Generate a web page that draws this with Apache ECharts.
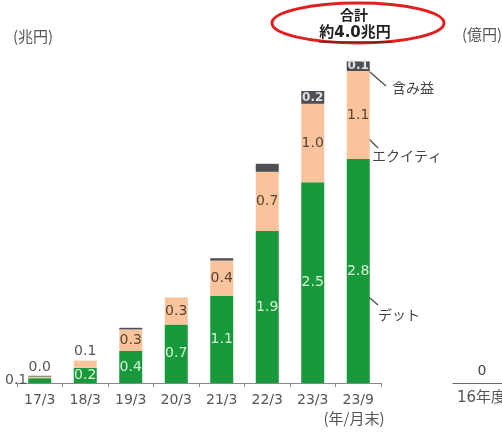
<!DOCTYPE html>
<html><head><meta charset="utf-8">
<script src="https://cdn.jsdelivr.net/npm/echarts@6/dist/echarts.min.js"></script>
<style>html,body{margin:0;padding:0;background:#fff}#c{width:502px;height:435px}</style>
</head><body><div id="c"></div>
<script>
var categories = ['17/3','18/3','19/3','20/3','21/3','22/3','23/3','23/9'];
var debt   = [0.06, 0.19, 0.40, 0.73, 1.09, 1.90, 2.51, 2.80];
var equity = [0.02, 0.09, 0.27, 0.34, 0.44, 0.74, 0.98, 1.10];
var gains  = [0.01, 0.00, 0.02, 0.00, 0.03, 0.10, 0.16, 0.12];
var rightCategories = ['16年度末'];
var rightValues = [0];

var FONT = "'DejaVu Sans','Noto Sans CJK JP',sans-serif";
var JP = "'Noto Sans CJK JP',sans-serif";
function fmt(p){ return (Math.round(p.value*10)/10).toFixed(1); }

var debtData = debt.map(function(v,i){
  var d = {value:v};
  if (i === 0) d.label = {position:'left', distance:1, color:'#555'};
  return d;
});
var equityData = equity.map(function(v,i){
  var d = {value:v};
  if (i === 0 || i === 1) d.label = {position:'top', distance:2, color:'#555'};
  return d;
});
var gainsData = gains.map(function(v,i){
  var d = {value:v};
  if (i >= 6) d.label = {show:true, position:'inside', color:'#e0e0e0', fontSize:12, fontWeight:'bold', fontFamily:FONT, formatter:fmt};
  return d;
});

var chart = echarts.init(document.getElementById('c'));
chart.setOption({
  animation:false,
  grid:[
    {left:17, right:121, top:23, bottom:52, outerBoundsMode:'none', containLabel:false},
    {left:453, width:72, top:23, bottom:52, outerBoundsMode:'none', containLabel:false}
  ],
  xAxis:[
    {type:'category', gridIndex:0, data:categories,
     axisLine:{lineStyle:{color:'#888', width:1}},
     axisTick:{show:true, length:4, lineStyle:{color:'#888'}},
     axisLabel:{color:'#555', fontSize:14, fontFamily:FONT, margin:10}},
    {type:'category', gridIndex:1, data:rightCategories,
     axisLine:{lineStyle:{color:'#666', width:1}},
     axisTick:{show:false},
     axisLabel:{color:'#555', fontSize:15, fontFamily:FONT, margin:8}}
  ],
  yAxis:[
    {type:'value', gridIndex:0, min:0, max:4.5, show:false},
    {type:'value', gridIndex:1, min:0, max:100, show:false}
  ],
  series:[
    {name:'デット', type:'bar', stack:'a', barWidth:23, data:debtData,
     itemStyle:{color:'#17993c'},
     label:{show:true, position:'inside', color:'#d6f2d6', fontSize:14, fontFamily:FONT, formatter:fmt}},
    {name:'エクイティ', type:'bar', stack:'a', barWidth:23, data:equityData,
     itemStyle:{color:'#f9c49c'},
     label:{show:true, position:'inside', color:'#5a4332', fontSize:14, fontFamily:FONT, formatter:fmt}},
    {name:'含み益', type:'bar', stack:'a', barWidth:23, data:gainsData,
     itemStyle:{color:'#4e4f55'},
     label:{show:false}},
    {name:'right', type:'bar', xAxisIndex:1, yAxisIndex:1, barWidth:23, data:rightValues,
     itemStyle:{color:'#17993c'},
     label:{show:true, position:'top', distance:5, offset:[-7,0], color:'#444', fontSize:14, fontFamily:FONT}}
  ],
  graphic:[
    {type:'text', left:13, top:29, style:{text:'(兆円)', fill:'#555', font:'15px '+JP}},
    {type:'text', left:462, top:27, style:{text:'(億円)', fill:'#555', font:'15px '+JP}},
    {type:'ellipse', shape:{cx:358, cy:23, rx:86, ry:20}, style:{fill:'none', stroke:'#e0201f', lineWidth:3}},
    {type:'text', x:354, y:15, style:{text:'合計', fill:'#222', font:'bold 14px '+JP, align:'center', verticalAlign:'middle'}},
    {type:'text', x:355, y:33, style:{text:'約4.0兆円', fill:'#222', font:'bold 15px '+FONT, align:'center', verticalAlign:'middle'}},
    {type:'line', shape:{x1:319, y1:42, x2:391, y2:42}, style:{stroke:'#222', lineWidth:1}},
    {type:'line', shape:{x1:363, y1:66, x2:386, y2:86}, style:{stroke:'#555', lineWidth:1.5}},
    {type:'text', left:392, top:81, style:{text:'含み益', fill:'#444', font:'14px '+JP}},
    {type:'line', shape:{x1:362, y1:132, x2:378, y2:148}, style:{stroke:'#555', lineWidth:1.5}},
    {type:'text', left:372, top:149, style:{text:'エクイティ', fill:'#444', font:'14px '+JP}},
    {type:'line', shape:{x1:363, y1:292, x2:378, y2:305}, style:{stroke:'#555', lineWidth:1.5}},
    {type:'text', left:378, top:308, style:{text:'デット', fill:'#444', font:'14px '+JP}},
    {type:'text', x:354, y:418, style:{text:'(年/月末)', fill:'#555', font:'15px '+JP, align:'center', verticalAlign:'middle'}}
  ]
});
</script>
</body></html>
